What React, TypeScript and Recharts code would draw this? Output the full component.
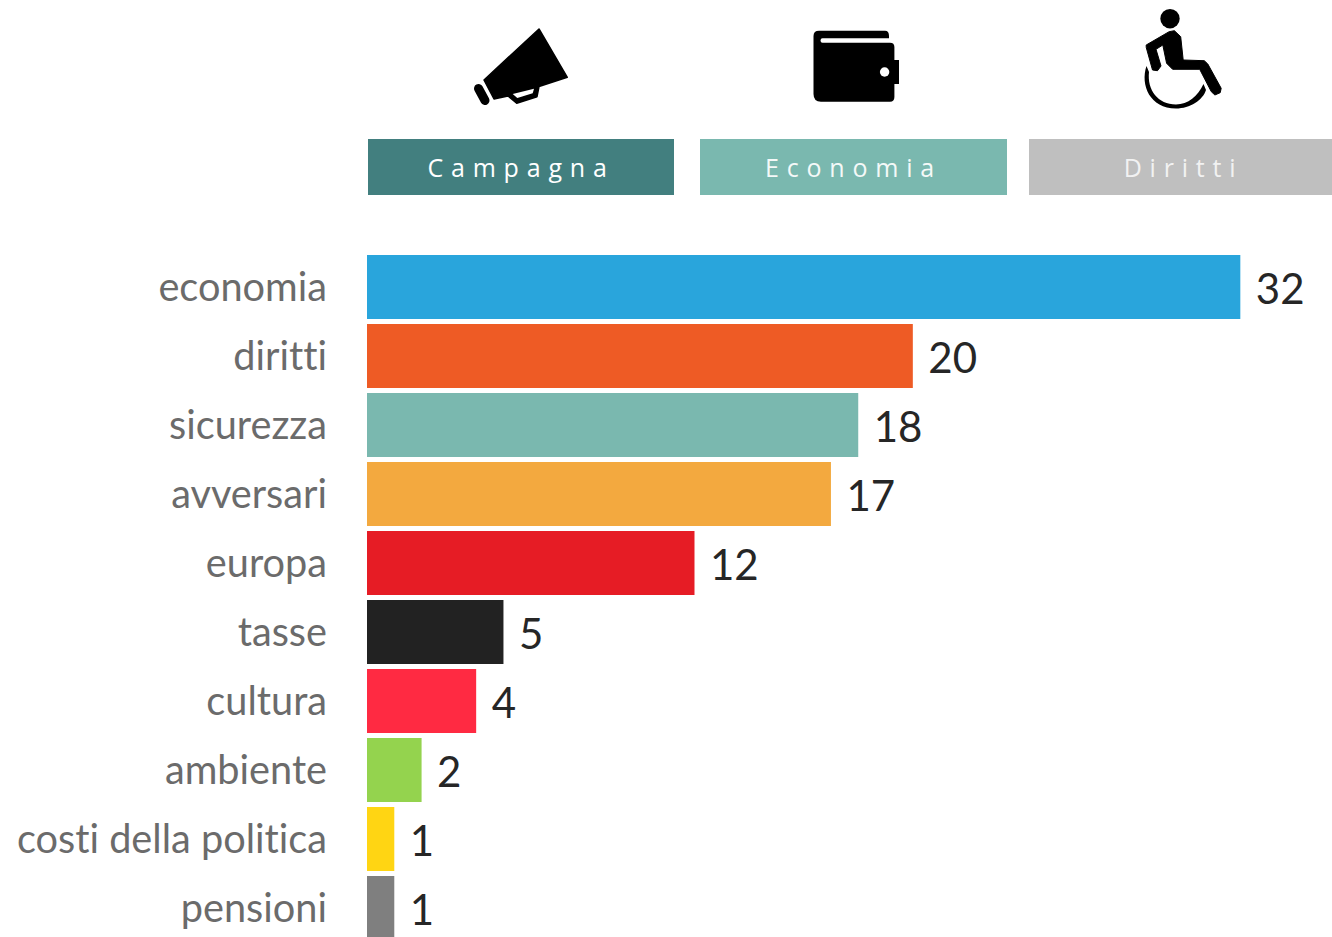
import React from "react";
import { BarChart, Bar, XAxis, YAxis, Cell, LabelList } from "recharts";

const categories = ["economia", "diritti", "sicurezza", "avversari", "europa", "tasse", "cultura", "ambiente", "costi della politica", "pensioni"];
const values = [32, 20, 18, 17, 12, 5, 4, 2, 1, 1];
const barColors = ["#29a5dc", "#ee5b25", "#7ab8af", "#f3a93f", "#e61c25", "#222222", "#ff2a42", "#94d34e", "#ffd513", "#7f7f7f"];
const chips = [
  { label: "Campagna", left: 368, width: 306, bg: "#427f7f", color: "#ffffff", pad: 0 },
  { label: "Economia", left: 700, width: 307, bg: "#7ab8af", color: "#f4f9f8", pad: 0 },
  { label: "Diritti", left: 1029, width: 303, bg: "#bfbfbf", color: "#f2f2f2", pad: 6 },
];
const rows = categories.map((name, i) => ({ name, value: values[i] }));

const FONT = "Lato, sans-serif";

const ValueLabel = (props: any) => {
  const { x, y, width, height, value } = props;
  return (
    <text x={x + width + 15.5} y={y + height / 2 + 1.5} dy="0.36em" fontFamily={FONT} fontSize={42} fill="#262626">
      {value}
    </text>
  );
};

const Icons = () => (
  <svg width={1332} height={130} style={{ position: "absolute", left: 0, top: 0 }}>
    <g fill="#000">
      <path d="M539 29 L567.3 77.3 L539 86.5 L537 96.7 L516.7 103.3 L508 96 L494 99 L484 80 Z" strokeLinejoin="round" stroke="#000" strokeWidth={1.5} />
      <path d="M512.7 94 L534 88.7 L532.7 93.3 L517.3 98 Z" fill="#fff" />
      <line x1={478.5} y1={88.5} x2={485} y2={100.5} stroke="#000" strokeWidth={9} strokeLinecap="round" />
      <path d="M819 30.7 H885 Q889 30.7 889 36 V38.3 H822.5 Q820.5 38.3 820.5 40.5 Q820.5 42.7 822.5 42.7 H890 Q894.4 42.7 894.4 47 V60 H899 V84 H894.4 V97 Q894.4 101.7 890 101.7 H821 Q813.5 101.7 813.5 94 V36 Q813.5 30.7 819 30.7 Z" />
      <circle cx={884.6} cy={72} r={4.7} fill="#fff" />
      <ellipse cx={1170} cy={18.7} rx={9.7} ry={9.7} />
      <path d="M1146.2 45 L1169.1 31.7 L1174.4 30.7 L1180.7 36.7 L1183.2 60 L1204.3 60.7 L1207.8 64 L1221.2 88.3 L1220.2 92.7 L1214.9 95 L1211.3 91.7 L1199.7 69.3 L1172.6 69.3 L1166.6 63.3 L1162.8 45 L1156 49.3 L1161 66 L1157.5 70.7 L1152.5 70 L1146.2 47.3 Z" stroke="#000" strokeWidth={1} strokeLinejoin="round" />
      <path d="M1146.5 66 C1140 85 1150 108.5 1176 108.5 C1190 108.5 1203 100 1206 90 L1203.5 84 C1198 96 1188 104.5 1176 104.5 C1158 104.5 1147 90 1149 72 Z" />
    </g>
  </svg>
);

export default function App() {
  return (
    <div style={{ position: "absolute", left: 0, top: 0, width: 1332, height: 937, overflow: "hidden", background: "#fff" }}>
      <Icons />
      {chips.map((c) => (
        <div
          key={c.label}
          style={{
            position: "absolute",
            left: c.left,
            top: 139,
            width: c.width,
            height: 56,
            lineHeight: "56px",
            boxSizing: "border-box",
            paddingLeft: c.pad,
            background: c.bg,
            color: c.color,
            fontFamily: "'Open Sans', sans-serif",
            fontSize: 25,
            letterSpacing: 7.8,
            textAlign: "center",
          }}
        >
          {c.label}
        </div>
      ))}
      <div style={{ position: "absolute", left: 0, top: 0 }}>
        <BarChart
          width={1332}
          height={960}
          data={rows}
          layout="vertical"
          margin={{ top: 252, right: 9.8, bottom: 18, left: 0 }}
          barCategoryGap={0}
        >
          <XAxis type="number" domain={[0, 35]} hide />
          <YAxis
            type="category"
            dataKey="name"
            width={367}
            axisLine={false}
            tickLine={false}
            tickSize={0}
            tickMargin={40}
            interval={0}
            tick={{ fill: "#6b6b6b", fontSize: 39.7, fontFamily: FONT, dy: 0.5, style: { fontVariantLigatures: "none" } }}
          />
          <Bar dataKey="value" barSize={64} isAnimationActive={false}>
            {rows.map((r, i) => (
              <Cell key={r.name} fill={barColors[i]} />
            ))}
            <LabelList dataKey="value" content={ValueLabel} />
          </Bar>
        </BarChart>
      </div>
    </div>
  );
}
